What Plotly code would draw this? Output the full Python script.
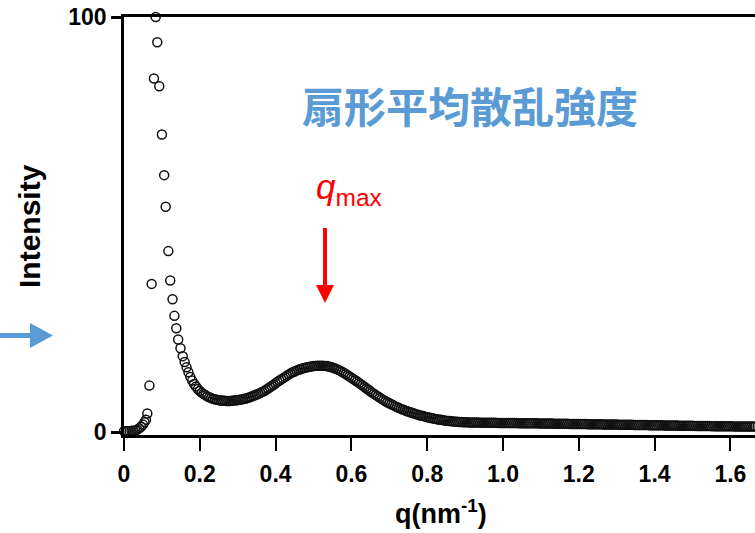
import plotly.graph_objects as go

# ---------------- data ----------------
Q_LOW = [0.000, 0.005, 0.010, 0.015, 0.020, 0.025, 0.030, 0.035, 0.040, 0.045,
         0.050, 0.054, 0.058, 0.0615, 0.067, 0.073, 0.079, 0.0836, 0.0878, 0.093,
         0.100, 0.106, 0.110, 0.117, 0.122, 0.128, 0.133, 0.138, 0.143, 0.149]
I_LOW = [0.2, 0.2, 0.2, 0.2, 0.3, 0.3, 0.4, 0.6, 0.9, 1.3,
         1.8, 2.4, 3.0, 4.5, 11.2, 35.7, 85.2, 100.0, 93.9, 83.3,
         71.7, 61.9, 54.3, 43.6, 36.5, 32.0, 28.0, 25.0, 22.3, 20.2]

# dense part: q = 0.155 ... 1.665 sampled every 0.005 nm^-1
Q_DENSE_START = 0.155
Q_DENSE_STEP = 0.005
I_DENSE = [
    18.3, 16.9, 15.6, 14.4, 13.3, 12.4, 11.6, 11.0, 10.4, 9.9,
    9.5, 9.2, 8.9, 8.6, 8.4, 8.2, 8.0, 7.9, 7.8, 7.7,
    7.6, 7.6, 7.55, 7.5, 7.5, 7.5, 7.55, 7.6, 7.65, 7.7,
    7.78, 7.85, 7.95, 8.05, 8.2, 8.35, 8.5, 8.7, 8.87, 9.05,
    9.25, 9.45, 9.68, 9.9, 10.2, 10.5, 10.8, 11.1, 11.4, 11.75,
    12.1, 12.4, 12.7, 13.0, 13.3, 13.6, 13.9, 14.15, 14.4, 14.6,
    14.8, 15.0, 15.15, 15.3, 15.45, 15.55, 15.65, 15.75, 15.83, 15.9,
    15.95, 16.0, 16.0, 16.0, 16.0, 15.95, 15.9, 15.8, 15.7, 15.55,
    15.4, 15.2, 15.0, 14.8, 14.55, 14.3, 14.0, 13.7, 13.4, 13.1,
    12.8, 12.5, 12.2, 11.85, 11.5, 11.2, 10.85, 10.5, 10.2, 9.85,
    9.5, 9.2, 8.9, 8.6, 8.3, 8.0, 7.7, 7.45, 7.2, 6.95,
    6.7, 6.5, 6.25, 6.05, 5.85, 5.65, 5.45, 5.3, 5.1, 4.95,
    4.8, 4.65, 4.5, 4.35, 4.2, 4.05, 3.95, 3.85, 3.72, 3.6,
    3.5, 3.4, 3.3, 3.2, 3.12, 3.05, 2.97, 2.9, 2.82, 2.76,
    2.7, 2.65, 2.6, 2.56, 2.52, 2.48, 2.45, 2.42, 2.4, 2.37,
    2.35, 2.34, 2.33, 2.32, 2.31, 2.3, 2.29, 2.28, 2.27, 2.26,
    2.25, 2.25, 2.24, 2.24, 2.23, 2.23, 2.22, 2.22, 2.21, 2.2,
    2.2, 2.19, 2.19, 2.18, 2.18, 2.17, 2.17, 2.16, 2.16, 2.15,
    2.14, 2.14, 2.13, 2.13, 2.12, 2.12, 2.11, 2.11, 2.1, 2.1,
    2.09, 2.08, 2.07, 2.07, 2.06, 2.05, 2.04, 2.04, 2.03, 2.02,
    2.01, 2.0, 2.0, 1.99, 1.98, 1.97, 1.97, 1.96, 1.95, 1.95,
    1.94, 1.93, 1.92, 1.92, 1.91, 1.9, 1.89, 1.89, 1.88, 1.87,
    1.86, 1.86, 1.85, 1.84, 1.83, 1.83, 1.82, 1.81, 1.81, 1.8,
    1.79, 1.78, 1.78, 1.77, 1.76, 1.75, 1.75, 1.74, 1.73, 1.72,
    1.72, 1.71, 1.7, 1.69, 1.69, 1.68, 1.67, 1.66, 1.66, 1.65,
    1.64, 1.63, 1.63, 1.62, 1.61, 1.6, 1.6, 1.59, 1.58, 1.57,
    1.57, 1.56, 1.55, 1.54, 1.54, 1.53, 1.52, 1.52, 1.51, 1.5,
    1.49, 1.49, 1.48, 1.47, 1.47, 1.46, 1.45, 1.45, 1.44, 1.43,
    1.43, 1.42, 1.42, 1.41, 1.41, 1.4, 1.4, 1.39, 1.39, 1.38,
    1.38, 1.37, 1.37, 1.36, 1.36, 1.35, 1.35, 1.34, 1.34, 1.33,
    1.33, 1.32, 1.32,
]

X_TICKS = [0, 0.2, 0.4, 0.6, 0.8, 1.0, 1.2, 1.4, 1.6]
X_TICK_LABELS = ["0", "0.2", "0.4", "0.6", "0.8", "1.0", "1.2", "1.4", "1.6"]
Y_TICKS = [0, 100]
Y_TICK_LABELS = ["0", "100"]

TITLE = "扇形平均散乱強度"
X_TITLE = "<b>q(nm<sup>-1</sup>)</b>"
Y_TITLE = "<b>Intensity</b>"
QMAX_LABEL = "<i>q</i><sub>max</sub>"

# ---------------- build ----------------
q_dense = [round(Q_DENSE_START + Q_DENSE_STEP * i, 3) for i in range(len(I_DENSE))]
q_all = Q_LOW + q_dense
i_all = I_LOW + I_DENSE

W, H = 755, 533
L, R, T, B = 124, 0, 17, 98
PW, PH = W - L - R, H - T - B


def px(x):
    return (x - L) / PW


def py(y):
    return (H - B - y) / PH


FONT = "Liberation Sans, Arial, sans-serif"
BLUE = "#5B9BD5"

fig = go.Figure()
fig.add_trace(go.Scatter(
    x=q_all, y=i_all, mode="markers", cliponaxis=False,
    marker=dict(symbol="circle-open", size=9, color="#111111",
                line=dict(width=1.5, color="#111111")),
    showlegend=False, hoverinfo="skip",
))

fig.update_layout(
    width=W, height=H,
    margin=dict(l=L, r=R, t=T, b=B, pad=0),
    paper_bgcolor="white", plot_bgcolor="white",
    font=dict(family=FONT, color="black"),
    xaxis=dict(
        range=[0, 1.665], showgrid=False, zeroline=False,
        showline=True, linewidth=2.5, linecolor="black", mirror=True,
        ticks="outside", ticklen=13, tickwidth=2, tickcolor="black",
        tickvals=X_TICKS, ticktext=X_TICK_LABELS,
        tickfont=dict(family=FONT, size=23, weight=700, color="black"),
        ticklabelstandoff=4,
    ),
    yaxis=dict(
        range=[-0.7, 100], showgrid=False, zeroline=False,
        showline=True, linewidth=2.5, linecolor="black",
        ticks="outside", ticklen=10, tickwidth=3, tickcolor="black",
        tickvals=Y_TICKS, ticktext=Y_TICK_LABELS,
        tickfont=dict(family=FONT, size=23, weight=700, color="black"),
        ticklabelstandoff=0,
    ),
)

annotations = [
    dict(text="<b>" + TITLE + "</b>", x=px(470), y=py(104), xref="paper", yref="paper",
         showarrow=False, xanchor="center", yanchor="middle",
         font=dict(family="Noto Sans CJK JP", size=42, color=BLUE)),
    dict(text=QMAX_LABEL, x=px(314), y=py(189), xref="paper", yref="paper",
         showarrow=False, xanchor="left", yanchor="middle",
         font=dict(family=FONT, size=35, color="#FF0000")),
    dict(text=X_TITLE, x=px(441), y=py(512), xref="paper", yref="paper",
         showarrow=False, xanchor="center", yanchor="middle",
         font=dict(family=FONT, size=27, color="black")),
    dict(text=Y_TITLE, x=px(29), y=py(226), xref="paper", yref="paper",
         showarrow=False, xanchor="center", yanchor="middle", textangle=-90,
         font=dict(family=FONT, size=30, color="black")),
]
fig.update_layout(annotations=annotations)

shapes = [
    # red q_max arrow shaft + head
    dict(type="line", xref="paper", yref="paper",
         x0=px(325), x1=px(325), y0=py(228), y1=py(288),
         line=dict(color="#FF0000", width=4)),
    dict(type="path", xref="paper", yref="paper",
         path=f"M {px(316)},{py(285)} L {px(334)},{py(285)} L {px(325)},{py(303)} Z",
         fillcolor="#FF0000", line=dict(width=0)),
    # blue arrow on left
    dict(type="path", xref="paper", yref="paper",
         path=(f"M {px(0)},{py(333)} L {px(30)},{py(333)} L {px(30)},{py(323)} "
               f"L {px(53)},{py(335.5)} L {px(30)},{py(348)} L {px(30)},{py(338)} "
               f"L {px(0)},{py(338)} Z"),
         fillcolor=BLUE, line=dict(width=0)),
]
fig.update_layout(shapes=shapes)

fig.write_html(
    "out.html",
    config={"displayModeBar": False},
    post_script="document.body.style.margin='0';document.body.style.overflow='hidden';",
)
